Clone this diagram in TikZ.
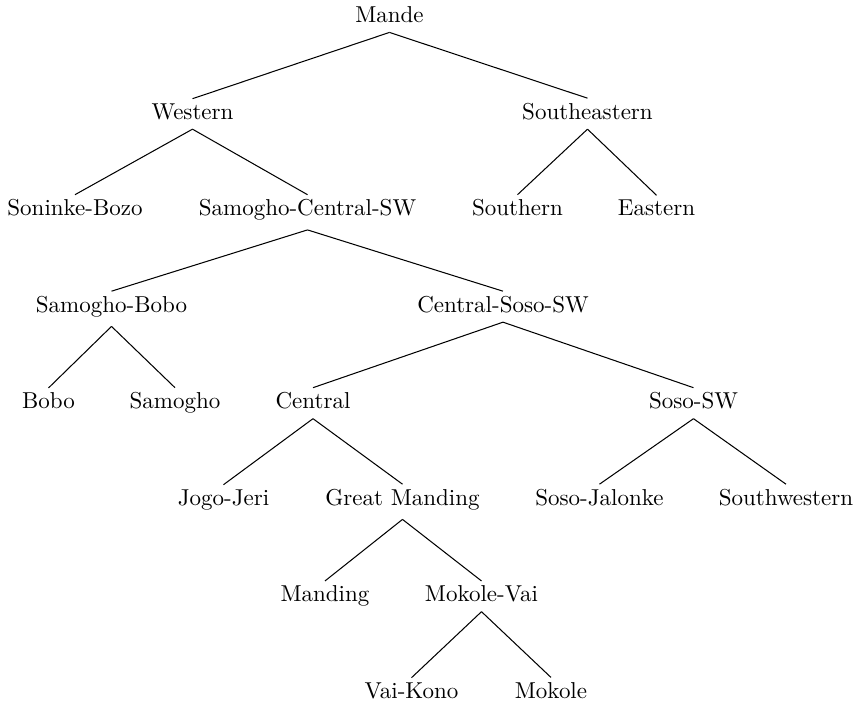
\documentclass[tikz,border=0pt]{standalone}
\begin{document}
\begin{tikzpicture}[x=0.4348pt,y=-0.4348pt,
  lbl/.style={anchor=base,inner xsep=0pt,inner ysep=1.8pt},
  edge/.style={line width=0.45pt}]
\useasboundingbox (0,0) rectangle (859,705);
\def\ya{22.5}\def\yb{119}\def\yc{215.5}\def\yd{312}\def\ye{408.5}\def\yf{505}\def\yg{601.5}\def\yh{698}
\node[lbl] (mande) at (389.5,\ya) {Mande};
\node[lbl] (western) at (192.5,\yb) {Western};
\node[lbl] (southeastern) at (587.5,\yb) {Southeastern};
\node[lbl] (soninke) at (75,\yc) {Soninke-Bozo};
\node[lbl] (scsw) at (307.5,\yc) {Samogho-Central-SW};
\node[lbl] (southern) at (517.5,\yc) {Southern};
\node[lbl] (eastern) at (656.5,\yc) {Eastern};
\node[lbl] (sambobo) at (111.5,\yd) {Samogho-Bobo};
\node[lbl] (cssw) at (503,\yd) {Central-Soso-SW};
\node[lbl] (bobo) at (48.5,\ye) {Bobo};
\node[lbl] (samogho) at (175,\ye) {Samogho};
\node[lbl] (central) at (313,\ye) {Central};
\node[lbl] (sososw) at (693.5,\ye) {Soso-SW};
\node[lbl] (jogo) at (223.5,\yf) {Jogo-Jeri};
\node[lbl] (great) at (402.5,\yf) {Great Manding};
\node[lbl] (sosoj) at (599.5,\yf) {Soso-Jalonke};
\node[lbl] (southwestern) at (786,\yf) {Southwestern};
\node[lbl] (manding) at (325,\yg) {Manding};
\node[lbl] (mokvai) at (481.5,\yg) {Mokole-Vai};
\node[lbl] (vaikono) at (411.5,\yh) {Vai-Kono};
\node[lbl] (mokole) at (551,\yh) {Mokole};
\foreach \p/\c in {mande/western, mande/southeastern, western/soninke, western/scsw,
  southeastern/southern, southeastern/eastern, scsw/sambobo, scsw/cssw,
  sambobo/bobo, sambobo/samogho, cssw/central, cssw/sososw,
  central/jogo, central/great, sososw/sosoj, sososw/southwestern,
  great/manding, great/mokvai, mokvai/vaikono, mokvai/mokole}
  \draw[edge] ([yshift=-2.2pt]\p.south) -- (\c.north);
\end{tikzpicture}
\end{document}
